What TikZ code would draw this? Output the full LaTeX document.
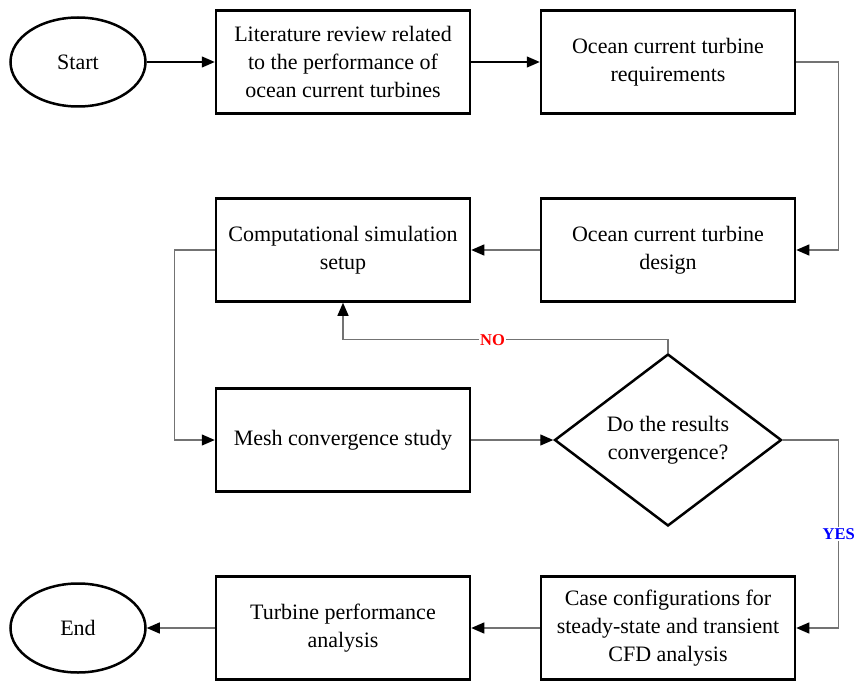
\documentclass[tikz,border=0pt]{standalone}
\usepackage{fontspec}
\setmainfont{Liberation Serif}
\usetikzlibrary{arrows.meta}
\usetikzlibrary{shapes.geometric}

\begin{document}
\begin{tikzpicture}[x = 1pt, y = -1pt]
\tikzstyle{StepBox}=[shape = rectangle,
                     draw, line width = 2.5pt,
                     minimum width = 254pt,
                     minimum height = 103pt,
                     align = center,
                     font = \fontsize{22}{28}\selectfont]
\tikzstyle{Terminal}=[shape = ellipse,
                      draw, line width = 2.5pt,
                      minimum width = 135pt,
                      minimum height = 89pt,
                      font = \fontsize{22}{28}\selectfont]
\tikzstyle{Decision}=[shape = diamond,
                      draw, line width = 2.5pt,
                      minimum width = 227pt,
                      minimum height = 172pt,
                      inner sep = 0pt,
                      align = center,
                      font = \fontsize{22}{28}\selectfont]
\tikzstyle{Flow}=[draw = black!55, line width = 1.3pt,
                  -{Triangle[length = 13pt, width = 11pt, black]}]
\tikzstyle{Answer}=[fill = white, inner sep = 1pt,
                    font = \fontsize{16.5}{18}\selectfont\bfseries]
\useasboundingbox (0,0) rectangle (859,682);
\node[Terminal] (start) at (78,62) {Start};
\node[StepBox] (lit) at (343,62) {Literature review related\\to the performance of\\ocean current turbines};
\node[StepBox] (req) at (668,62) {Ocean current turbine\\requirements};
\node[StepBox] (design) at (668,250) {Ocean current turbine\\design};
\node[StepBox] (setup) at (343,250) {Computational simulation\\setup};
\node[StepBox] (mesh) at (343,440) {Mesh convergence study};
\node[Decision] (conv) at (668,440) {Do the results\\convergence?};
\node[StepBox] (cases) at (668,628) {Case configurations for\\steady-state and transient\\CFD analysis};
\node[StepBox] (perf) at (343,628) {Turbine performance\\analysis};
\node[Terminal] (end) at (78,628) {End};
\draw[Flow, draw = black] (start) -- (lit);
\draw[Flow, draw = black] (lit) -- (req);
\draw[Flow] (req.east) -- ++(42,0) |- (design.east);
\draw[Flow] (design) -- (setup);
\draw[Flow] (setup.west) -- ++(-40,0) |- (mesh.west);
\draw[Flow] (mesh) -- (conv);
\draw[Flow] (conv.north) -- ++(0,-13) -| node[Answer, pos = 0.27, text = red] {NO} (setup.south);
\draw[Flow] (conv.east) -- ++(56,0) |- node[Answer, pos = 0.25, text = blue] {YES} (cases.east);
\draw[Flow] (cases) -- (perf);
\draw[Flow] (perf) -- (end);
\end{tikzpicture}
\end{document}
